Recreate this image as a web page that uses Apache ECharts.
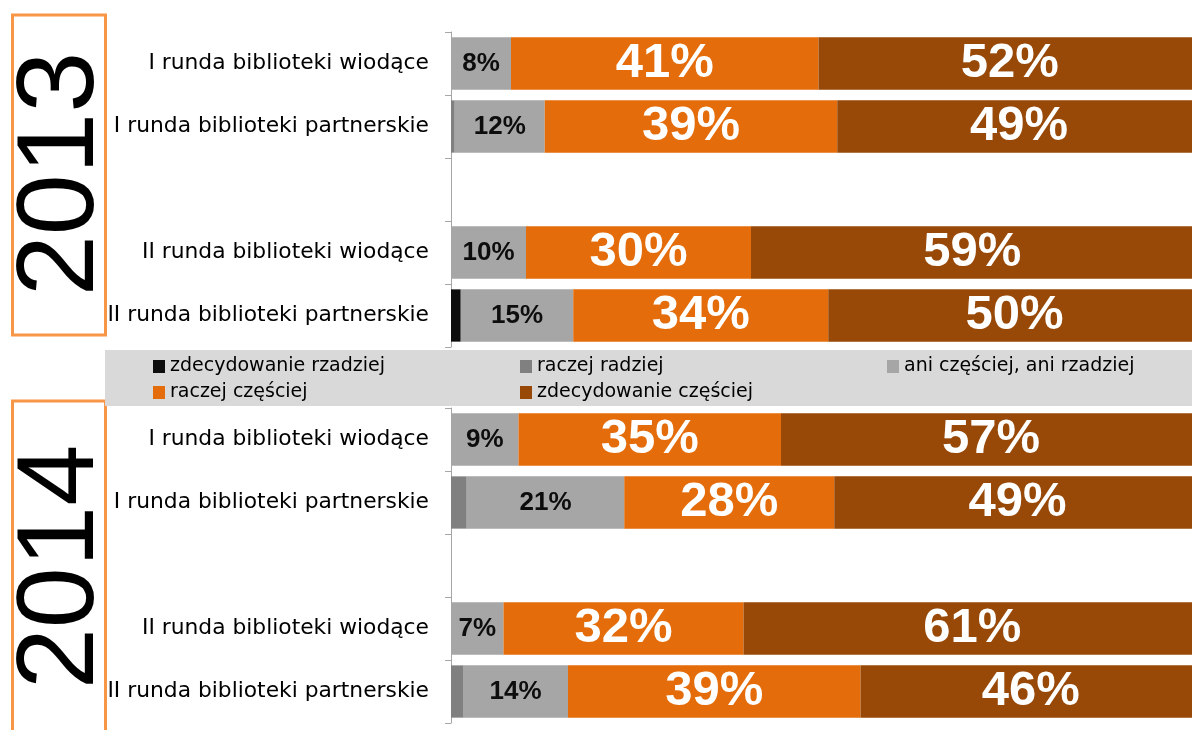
<!DOCTYPE html>
<html>
<head>
<meta charset="utf-8">
<script src="https://cdn.jsdelivr.net/npm/echarts@6/dist/echarts.min.js"></script>
<style>
  html, body { margin: 0; padding: 0; background: #fff; overflow: hidden; }
</style>
</head>
<body>
<div id="container" style="width: 1192px; height: 730px;"></div>
<script>
// kategorie (pusta pozycja = odstęp miedzy rundami)
var categories2013 = ['I runda biblioteki wiodące', 'I runda biblioteki partnerskie', '', 'II runda biblioteki wiodące', 'II runda biblioteki partnerskie'];
var categories2014 = ['I runda biblioteki wiodące', 'I runda biblioteki partnerskie', '', 'II runda biblioteki wiodące', 'II runda biblioteki partnerskie'];

var levels = ['zdecydowanie rzadziej', 'raczej radziej', 'ani częściej, ani rzadziej', 'raczej częściej', 'zdecydowanie częściej'];

// 2013
var zdecRzadziej2013 = [0, 0, null, 0, 1.3];
var raczejRadziej2013 = [0, 0.5, null, 0, 0];
var aniAni2013 = [8, 12, null, 10, 15];
var raczejCzesciej2013 = [41, 39, null, 30, 34];
var zdecCzesciej2013 = [52, 49, null, 59, 50];

// 2014
var zdecRzadziej2014 = [0, 0, null, 0, 0];
var raczejRadziej2014 = [0, 2.1, null, 0, 1.6];
var aniAni2014 = [9, 21, null, 7, 14];
var raczejCzesciej2014 = [35, 28, null, 32, 39];
var zdecCzesciej2014 = [57, 49, null, 61, 46];

var years = ['2013', '2014'];

var colors = ['#0d0d0d', '#808080', '#a6a6a6', '#e46c0a', '#984807'];

let chart = echarts.init(document.getElementById('container'));

var groups = [
  [zdecRzadziej2013, raczejRadziej2013, aniAni2013, raczejCzesciej2013, zdecCzesciej2013],
  [zdecRzadziej2014, raczejRadziej2014, aniAni2014, raczejCzesciej2014, zdecCzesciej2014]
];

function makeLabel(lvl) {
  if (lvl === 2) {
    return {
      show: true, position: 'inside', formatter: '{c}%',
      color: '#0d0d0d', fontFamily: 'Liberation Sans', fontWeight: 'bold', fontSize: 26
    };
  }
  if (lvl >= 3) {
    return {
      show: true, position: 'inside', formatter: '{c}%',
      color: '#ffffff', fontFamily: 'Liberation Sans', fontWeight: 'bold', fontSize: 49
    };
  }
  return { show: false };
}

var series = [];
for (var g = 0; g < groups.length; g++) {
  for (var lvl = 0; lvl < levels.length; lvl++) {
    series.push({
      name: levels[lvl],
      type: 'bar',
      stack: 'rok' + g,
      xAxisIndex: g,
      yAxisIndex: g,
      barCategoryGap: '17%',
      data: groups[g][lvl],
      itemStyle: { color: colors[lvl] },
      label: makeLabel(lvl),
      emphasis: { disabled: true },
      animation: false
    });
  }
}

function yAxisFor(idx, cats) {
  return {
    type: 'category',
    gridIndex: idx,
    data: cats,
    inverse: true,
    axisLine: { show: true, lineStyle: { color: '#a6a6a6', width: 1 } },
    axisTick: { show: true, length: 6, lineStyle: { color: '#a6a6a6' } },
    axisLabel: {
      margin: 22,
      color: '#000',
      fontFamily: 'DejaVu Sans',
      fontSize: 21.8
    }
  };
}

function xAxisFor(idx) {
  return { type: 'value', gridIndex: idx, min: 0, max: 100, show: false };
}

// szerokosc 100% wychodzi poza prawa krawedz obrazka
var option = {
  animation: false,
  grid: [
    { left: 451, width: 750, top: 32, height: 315, outerBoundsMode: 'none' },
    { left: 451, width: 750, top: 408, height: 315, outerBoundsMode: 'none' }
  ],
  xAxis: [xAxisFor(0), xAxisFor(1)],
  yAxis: [yAxisFor(0, categories2013), yAxisFor(1, categories2014)],
  legend: {
    data: levels,
    left: 105,
    top: 350,
    width: 1100,
    padding: [7, 10, 4, 48],
    backgroundColor: '#d9d9d9',
    icon: 'rect',
    itemWidth: 12,
    itemHeight: 13,
    itemGap: 7,
    selectedMode: false,
    textStyle: {
      color: '#000',
      fontFamily: 'DejaVu Sans',
      fontSize: 19,
      width: 343,
      lineHeight: 16
    }
  },
  graphic: [
    {
      type: 'rect', silent: true,
      shape: { x: 12.5, y: 15, width: 93, height: 320 },
      style: { fill: 'none', stroke: '#f79646', lineWidth: 3 }
    },
    {
      type: 'rect', silent: true,
      shape: { x: 12.5, y: 401, width: 93, height: 360 },
      style: { fill: 'none', stroke: '#f79646', lineWidth: 3 }
    },
    {
      type: 'text', silent: true,
      x: 63, y: 174, rotation: Math.PI / 2,
      style: {
        text: years[0], fill: '#000', fontFamily: 'Liberation Sans', fontSize: 110,
        textAlign: 'center', textVerticalAlign: 'middle'
      }
    },
    {
      type: 'text', silent: true,
      x: 63, y: 567, rotation: Math.PI / 2,
      style: {
        text: years[1], fill: '#000', fontFamily: 'Liberation Sans', fontSize: 110,
        textAlign: 'center', textVerticalAlign: 'middle'
      }
    }
  ],
  series: series
};

chart.setOption(option);
</script>
</body>
</html>
